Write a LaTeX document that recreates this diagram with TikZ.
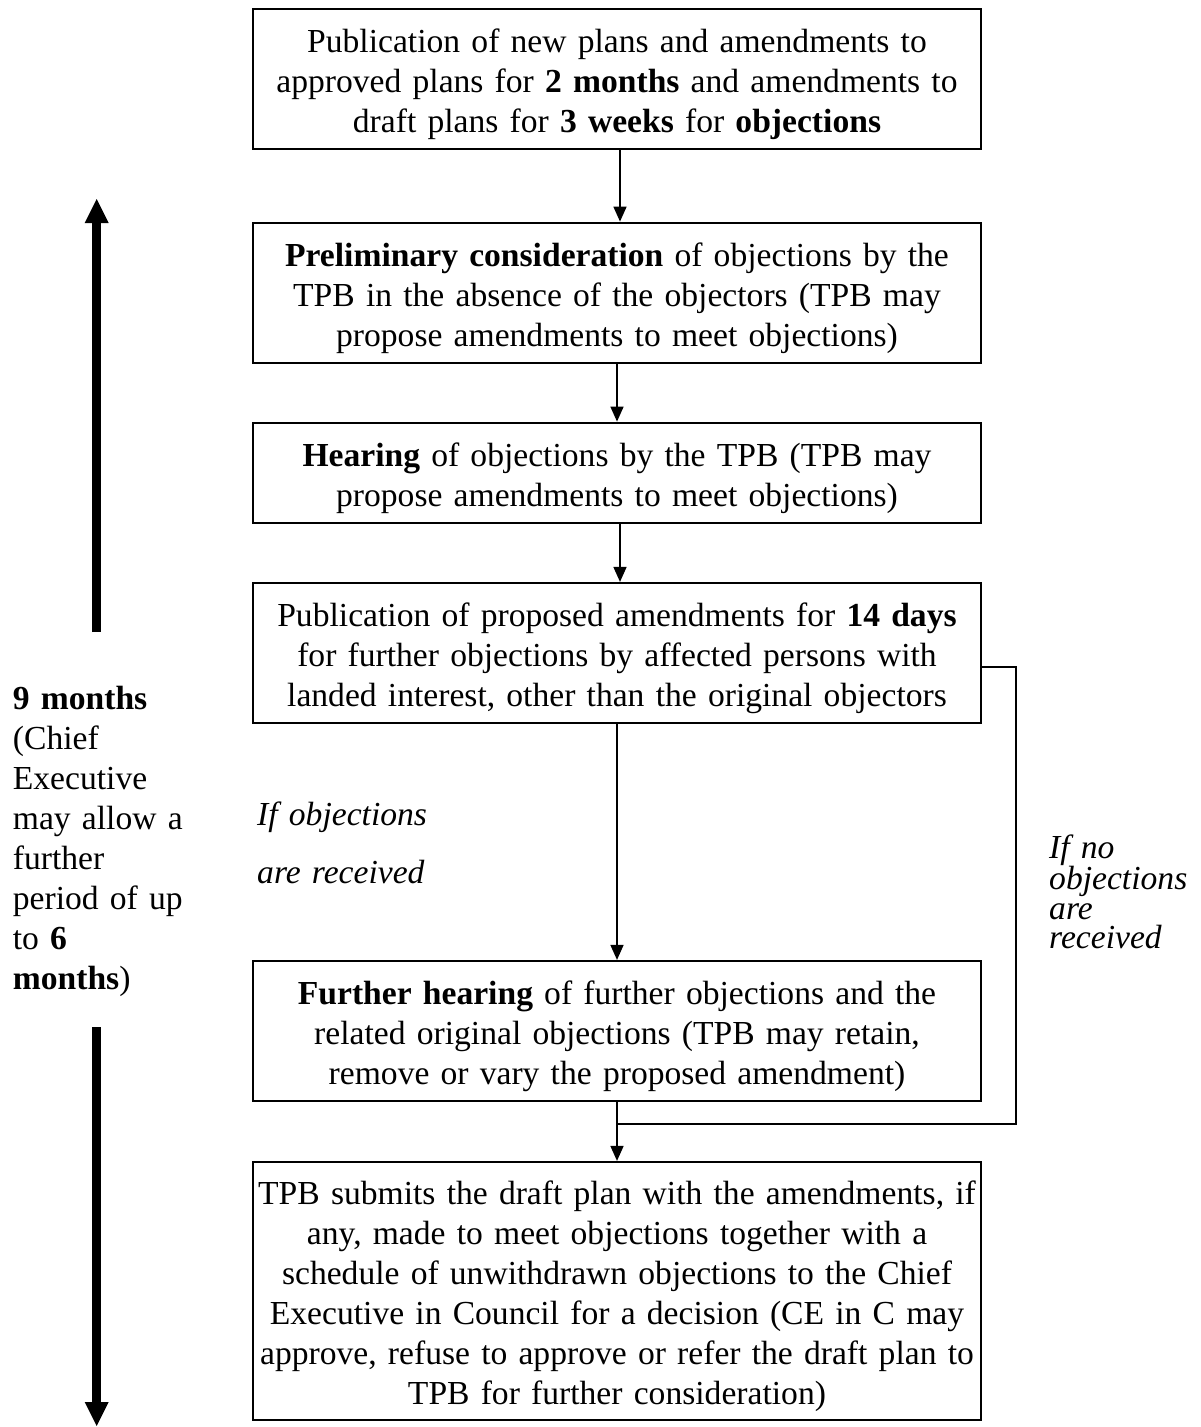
\documentclass[tikz,border=0pt]{standalone}
\usepackage{fontspec}
\setmainfont{Liberation Serif}
\usetikzlibrary{arrows.meta}
\begin{document}
\begin{tikzpicture}[x=1pt,y=-1pt,
  box/.style={draw, line width=2.2pt, inner sep=0pt, text width=728pt, align=center,
    font=\fontsize{33.6}{40}\selectfont, text height=30pt},
  boxtwo/.style={box, minimum height=100pt, text depth=42.6pt},
  boxthree/.style={box, minimum height=140pt, text depth=82.6pt},
  boxsix/.style={box, minimum height=258pt, text depth=202.6pt},
  lbl/.style={inner sep=0pt, anchor=base west, align=left},
  conn/.style={line width=1.6pt},
  arr/.style={conn, -{Triangle[width=13pt,length=15pt]}},
  thickarr/.style={line width=8.7pt, -{Triangle[width=24pt,length=24pt,line width=0pt]}}]
\fill[white] (0,0) rectangle (1201,1427);
\useasboundingbox (0,0) rectangle (1201,1427);

\node[boxthree] (b1) at (617,79.2) {Publication of new plans and amendments to\\
approved plans for \textbf{2 months} and amendments to\\
draft plans for \textbf{3 weeks} for \textbf{objections}};

\node[boxthree] (b2) at (617,292.7) {\textbf{Preliminary consideration} of objections by the\\
TPB in the absence of the objectors (TPB may\\
propose amendments to meet objections)};

\node[boxtwo] (b3) at (617,472.7) {\textbf{Hearing} of objections by the TPB (TPB may\\
propose amendments to meet objections)};

\node[boxthree] (b4) at (617,653) {Publication of proposed amendments for \textbf{14 days}\\
for further objections by affected persons with\\
landed interest, other than the original objectors};

\node[boxthree] (b5) at (617,1031) {\textbf{Further hearing} of further objections and the\\
related original objections (TPB may retain,\\
remove or vary the proposed amendment)};

\node[boxsix] (b6) at (617,1291) {TPB submits the draft plan with the amendments, if\\
any, made to meet objections together with a\\
schedule of unwithdrawn objections to the Chief\\
Executive in Council for a decision (CE in C may\\
approve, refuse to approve or refer the draft plan to\\
TPB for further consideration)};

\draw[arr] ([xshift=3pt]b1.south) -- ([xshift=3pt]b2.north);
\draw[arr] (b2.south) -- (b3.north);
\draw[arr] ([xshift=3pt]b3.south) -- ([xshift=3pt]b4.north);
\draw[arr] (b4.south) -- (b5.north);
\draw[arr] (b5.south) -- (b6.north);
\coordinate (j) at ([yshift=-21.7pt]b5.south);
\draw[conn] ([yshift=-13.7pt]b4.east) -- ++(34,0) |- (j);

\node[lbl, text width=200pt, font=\itshape\fontsize{33.6}{58}\selectfont] (yes) at (257,825)
  {If objections\\are received};
\node[lbl, text width=150pt, font=\itshape\fontsize{33.6}{29.3}\selectfont] (no) at (1049,858.3)
  {If no\\objections\\are\\received};
\node[lbl, text width=200pt, font=\fontsize{33.6}{40}\selectfont] (span) at (12.7,709)
  {\textbf{9 months}\\(Chief\\Executive\\may allow a\\further\\period of up\\to \textbf{6}\\\textbf{months})};

\coordinate (uEnd) at (96.7,632);
\coordinate (uTip) at (96.7,199);
\coordinate (dStart) at (96.7,1027);
\coordinate (dTip) at (96.7,1426);
\draw[thickarr] (uEnd) -- (uTip);
\draw[thickarr] (dStart) -- (dTip);
\end{tikzpicture}
\end{document}
